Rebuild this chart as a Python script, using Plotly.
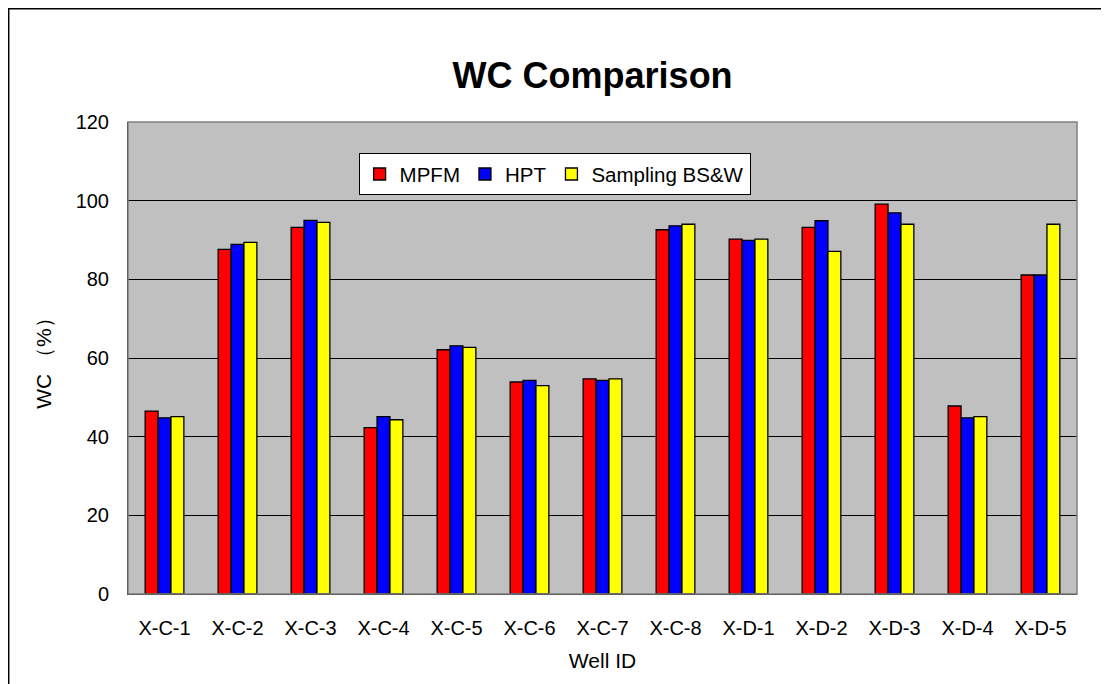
import plotly.graph_objects as go

wells = ['X-C-1', 'X-C-2', 'X-C-3', 'X-C-4', 'X-C-5', 'X-C-6', 'X-C-7',
         'X-C-8', 'X-D-1', 'X-D-2', 'X-D-3', 'X-D-4', 'X-D-5']
mpfm = [46.5, 87.6, 93.2, 42.3, 62.1, 53.9, 54.7, 92.6, 90.2, 93.2, 99.1, 47.8, 81.1]
hpt = [44.8, 88.9, 95.0, 45.1, 63.1, 54.3, 54.3, 93.6, 89.9, 94.9, 96.9, 44.8, 81.1]
sampling = [45.1, 89.4, 94.5, 44.3, 62.7, 53.0, 54.7, 94.0, 90.2, 87.1, 94.0, 45.1, 94.0]

font = 'Liberation Sans, Arial, sans-serif'

fig = go.Figure()
for name, vals, color in [('MPFM', mpfm, '#ff0000'),
                          ('HPT', hpt, '#0000ff'),
                          ('Sampling BS&W', sampling, '#ffff00')]:
    fig.add_trace(go.Bar(
        x=wells, y=vals, name=name,
        marker=dict(color=color, line=dict(color='black', width=1.3)),
    ))

# 设置布局
fig.update_layout(
    width=1101, height=676,
    margin=dict(l=120, r=32, t=114, b=90),
    paper_bgcolor='white',
    plot_bgcolor='#c0c0c0',
    barmode='group', bargap=0.47, bargroupgap=0,
    font=dict(family=font, size=20, color='black'),
    title=dict(text='<b>WC Comparison</b>', x=0.531, xanchor='center',
               y=0.901, yanchor='middle', font=dict(size=36)),
    legend=dict(orientation='h', x=0.243, y=0.934, xanchor='left', yanchor='top',
                bgcolor='white', bordercolor='black', borderwidth=1,
                font=dict(size=20.5), itemwidth=30, tracegroupgap=0),
    showlegend=True,
    shapes=[
        dict(type='rect', xref='paper', yref='paper',
             x0=-0.1257, x1=1.043, y0=-0.22, y1=1.24,
             line=dict(color='black', width=1.5), fillcolor='rgba(0,0,0,0)'),
        dict(type='rect', xref='paper', yref='paper',
             x0=0, x1=1, y0=0, y1=1,
             line=dict(color='#808080', width=1.5), fillcolor='rgba(0,0,0,0)'),
    ],
)

fig.update_xaxes(
    title=dict(text='Well ID', font=dict(size=21), standoff=15),
    showline=True, linecolor='black', linewidth=1,
    ticks='', tickfont=dict(size=20), ticklabelstandoff=16,
)
fig.update_yaxes(
    title=dict(text='WC （%）', font=dict(size=21), standoff=18),
    range=[0, 120], dtick=20,
    showgrid=True, gridcolor='black', gridwidth=1,
    showline=True, linecolor='black', linewidth=1,
    ticks='inside', ticklen=6, tickcolor='black',
    tickfont=dict(size=20), ticklabelstandoff=14, zeroline=False,
)

fig.write_html('out.html')
